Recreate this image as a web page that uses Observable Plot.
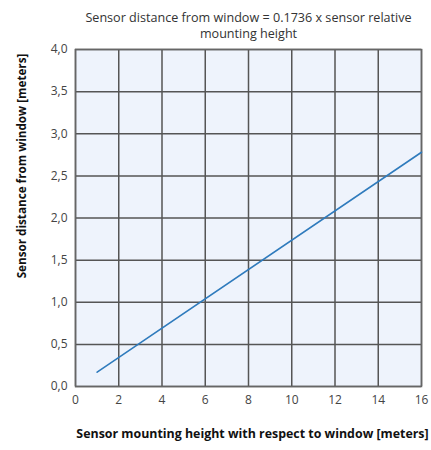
<!DOCTYPE html>
<html>
<head>
<meta charset="utf-8">
<script src="https://cdn.jsdelivr.net/npm/d3@7"></script>
<script src="https://cdn.jsdelivr.net/npm/@observablehq/plot@0.6"></script>
<style>
  html, body { margin: 0; padding: 0; background: #fff; }
  #chart svg { display: block; }
</style>
</head>
<body>
<div id="chart"></div>
<script>
const mountingHeight = [1, 16];
const sensorDistance = [0.17, 2.78];
const xTicks = [0, 2, 4, 6, 8, 10, 12, 14, 16];
const yTicks = [0, 0.5, 1, 1.5, 2, 2.5, 3, 3.5, 4];
const titleLines = ["Sensor distance from window = 0.1736 x sensor relative", "mounting height"];
const xLabel = "Sensor mounting height with respect to window [meters]";
const yLabel = "Sensor distance from window [meters]";

const data = mountingHeight.map((x, i) => ({x, y: sensorDistance[i]}));
const fmt = d => d.toFixed(1).replace(".", ",");

const chart = Plot.plot({
  width: 431,
  height: 450,
  marginLeft: 75,
  marginRight: 10,
  marginTop: 49,
  marginBottom: 64,
  style: {fontFamily: "'Open Sans', sans-serif", fontSize: "11px", color: "#444", background: "#fff"},
  x: {domain: [0, 16], label: null},
  y: {domain: [0, 4], label: null},
  marks: [
    Plot.frame({fill: "#eef3fc"}),
    Plot.gridX(xTicks, {stroke: "#555", strokeOpacity: 1, strokeWidth: 1.5}),
    Plot.gridY(yTicks, {stroke: "#555", strokeOpacity: 1, strokeWidth: 1.5}),
    Plot.frame({stroke: "#666", strokeWidth: 1.5}),
    Plot.line(data, {x: "x", y: "y", stroke: "#2f7bbd", strokeWidth: 1.6}),
    Plot.axisX(xTicks, {tickSize: 0, tickPadding: 9, fill: "#444", fontSize: 12}),
    Plot.axisY(yTicks, {tickSize: 0, tickPadding: 8, tickFormat: fmt, fill: "#444", fontSize: 12}),
    Plot.text([titleLines.join("\n")], {frameAnchor: "top", lineAnchor: "middle", lineHeight: 1.3, dy: -25, fontSize: 12.6, fill: "#333"}),
    Plot.text([xLabel], {frameAnchor: "bottom", dy: 51, dx: 4, fontSize: 12.4, fontWeight: "bold", fill: "#111"}),
    Plot.text([yLabel], {frameAnchor: "left", textAnchor: "middle", dx: -53, dy: -52, rotate: -90, fontSize: 11.7, fontWeight: "bold", fill: "#111"})
  ]
});
document.getElementById("chart").append(chart);
</script>
</body>
</html>
